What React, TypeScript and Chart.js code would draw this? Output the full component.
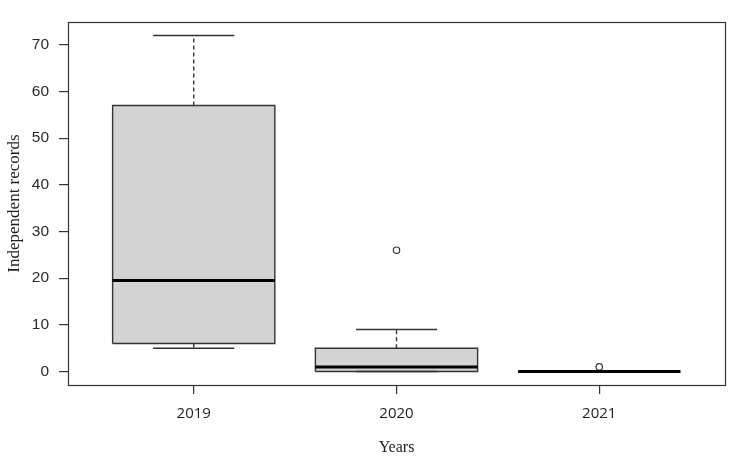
import React, { useEffect, useRef } from "react";
import { Chart, registerables } from "chart.js";

Chart.register(...registerables);

const categories = ["2019", "2020", "2021"];
const positions = [1, 2, 3];
const whiskerLow = [5, 0, 0];
const q1 = [6, 0, 0];
const median = [19.5, 1, 0];
const q3 = [57, 5, 0];
const whiskerHigh = [72, 9, 0];
const outliers: number[][] = [[], [26], [1]];
const yTicks = [0, 10, 20, 30, 40, 50, 60, 70];

const BOX_HALF = 0.4;
const CAP_HALF = 0.2;
const INK = "#333333";

const frame = {
  id: "frame",
  afterDatasetsDraw(chart: any) {
    const { ctx, chartArea } = chart;
    ctx.save();
    ctx.strokeStyle = INK;
    ctx.lineWidth = 1.2;
    ctx.strokeRect(
      Math.round(chartArea.left) + 0.5,
      Math.round(chartArea.top) + 0.5,
      Math.round(chartArea.right - chartArea.left),
      Math.round(chartArea.bottom - chartArea.top)
    );
    ctx.restore();
  },
};

export default function App() {
  const ref = useRef<HTMLCanvasElement>(null);

  useEffect(() => {
    if (!ref.current) return;

    const seg = (x1: number, y1: number, x2: number, y2: number) => [
      { x: x1, y: y1 },
      { x: x2, y: y2 },
    ];

    const medians = positions.map((p, i) => ({
      data: seg(p - BOX_HALF, median[i], p + BOX_HALF, median[i]),
      showLine: true,
      borderColor: "#000000",
      borderWidth: 3,
      pointRadius: 0,
      borderCapStyle: "butt",
    }));

    const outlierSet = {
      data: positions.flatMap((p, i) => outliers[i].map((v) => ({ x: p, y: v }))),
      showLine: false,
      pointStyle: "circle",
      pointRadius: 3.2,
      pointBorderWidth: 1.2,
      pointBorderColor: INK,
      pointBackgroundColor: "rgba(255,255,255,0)",
    };

    const caps = positions.flatMap((p, i) => [
      seg(p - CAP_HALF, whiskerLow[i], p + CAP_HALF, whiskerLow[i]),
      seg(p - CAP_HALF, whiskerHigh[i], p + CAP_HALF, whiskerHigh[i]),
    ]).map((d) => ({
      data: d,
      showLine: true,
      borderColor: INK,
      borderWidth: 1.4,
      pointRadius: 0,
    }));

    const whiskers = positions.flatMap((p, i) => [
      seg(p, q1[i], p, whiskerLow[i]),
      seg(p, q3[i], p, whiskerHigh[i]),
    ]).map((d) => ({
      data: d,
      showLine: true,
      borderColor: INK,
      borderWidth: 1.4,
      borderDash: [4, 3],
      pointRadius: 0,
    }));

    const boxes = positions.map((p, i) => ({
      data: [
        { x: p - BOX_HALF, y: q1[i] },
        { x: p + BOX_HALF, y: q1[i] },
        { x: p + BOX_HALF, y: q3[i] },
        { x: p - BOX_HALF, y: q3[i] },
        { x: p - BOX_HALF, y: q1[i] },
      ],
      showLine: true,
      fill: "shape",
      backgroundColor: "#d3d3d3",
      borderColor: INK,
      borderWidth: 1.4,
      pointRadius: 0,
      tension: 0,
    }));

    const chart = new Chart(ref.current, {
      type: "scatter",
      data: {
        datasets: [...medians, outlierSet, ...caps, ...whiskers, ...boxes] as any,
      },
      options: {
        animation: false,
        responsive: false,
        layout: { padding: { left: 0, top: 22, right: 11, bottom: 0 } },
        plugins: {
          legend: { display: false },
          tooltip: { enabled: false },
        },
        scales: {
          x: {
            type: "linear",
            min: 0.38,
            max: 3.62,
            afterBuildTicks: (axis: any) => {
              axis.ticks = positions.map((v) => ({ value: v }));
            },
            afterFit: (axis: any) => {
              axis.height = 72;
            },
            ticks: {
              callback: (v: any) => categories[positions.indexOf(Number(v))] ?? "",
              font: { family: "'Open Sans'", size: 15 },
              color: "#1e1e1e",
              padding: 11,
              maxRotation: 0,
              autoSkip: false,
            },
            grid: {
              display: true,
              drawOnChartArea: false,
              drawTicks: true,
              tickLength: 9,
              color: INK,
              lineWidth: 1.2,
            },
            border: { display: false },
            title: {
              display: true,
              text: "Years",
              font: { family: "'Liberation Serif'", size: 16 },
              color: "#1e1e1e",
              padding: { top: 0, bottom: 0 },
            },
          },
          y: {
            type: "linear",
            min: -2.88,
            max: 74.88,
            afterBuildTicks: (axis: any) => {
              axis.ticks = yTicks.map((v) => ({ value: v }));
            },
            afterFit: (axis: any) => {
              axis.width = 68;
            },
            ticks: {
              font: { family: "'Liberation Sans'", size: 15.5 },
              color: "#2a2a2a",
              padding: 10,
            },
            grid: {
              display: true,
              drawOnChartArea: false,
              drawTicks: true,
              tickLength: 9,
              color: INK,
              lineWidth: 1.2,
            },
            border: { display: false },
            title: {
              display: true,
              text: "Independent records",
              font: { family: "'Liberation Serif'", size: 17 },
              color: "#1e1e1e",
              padding: { top: 4, bottom: 0 },
            },
          },
        },
      },
      plugins: [frame],
    });

    return () => chart.destroy();
  }, []);

  return (
    <div style={{ position: "absolute", left: 0, top: 0, width: 736, height: 457, background: "#ffffff" }}>
      <canvas ref={ref} width={736} height={457} style={{ display: "block" }} />
    </div>
  );
}
